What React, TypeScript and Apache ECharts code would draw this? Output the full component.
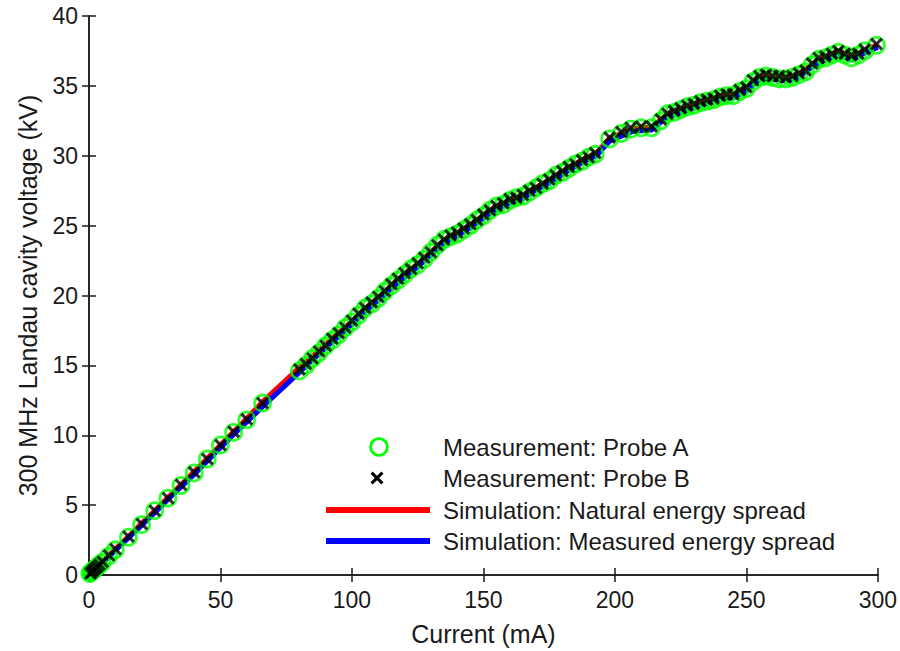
import React, { useEffect, useRef } from "react";
import * as echarts from "echarts";

// Current (mA) vs 300 MHz Landau cavity voltage (kV)
const probeA: [number, number][] = [
  [0.3, 0.1], [0.8, 0.2], [1.3, 0.3], [1.8, 0.35], [2.4, 0.45], [3.0, 0.55], [3.8, 0.7], [5.0, 0.9],
  [7.5, 1.35], [10, 1.8], [15, 2.7], [20, 3.6], [25, 4.6], [30, 5.5], [35, 6.4], [40, 7.3],
  [45, 8.3], [50, 9.3], [55, 10.2], [60, 11.1], [66, 12.3],
  [80, 14.6], [82.5, 15.0], [85, 15.5], [87.5, 15.9], [90, 16.4], [92.5, 16.8], [95, 17.2], [97.5, 17.7],
  [100, 18.1], [102.5, 18.6], [105, 19.1], [107.5, 19.4], [110, 19.8], [112.5, 20.3], [115, 20.7],
  [117.5, 21.1], [120, 21.5], [122.5, 21.9], [125, 22.2], [127.5, 22.6], [130, 23.1], [132.5, 23.6],
  [135, 24.0], [137.5, 24.2], [140, 24.4], [142.5, 24.7], [145, 25.0], [147.5, 25.4], [150, 25.7],
  [152.5, 26.1], [155, 26.4], [157.5, 26.5], [160, 26.8], [162.5, 27.0], [165, 27.1], [167.5, 27.4],
  [170, 27.7], [172.5, 28.0], [175, 28.2], [177.5, 28.6], [180, 28.8], [182.5, 29.1], [185, 29.4],
  [187.5, 29.6], [190, 29.9], [192.5, 30.1], [198, 31.2], [202.5, 31.6], [206, 31.9], [210, 32.0],
  [214, 32.0], [217.5, 32.5], [220, 33.0], [222.5, 33.1], [225, 33.3], [227.5, 33.5], [230, 33.6],
  [232.5, 33.8], [235, 33.9], [237.5, 34.0], [240, 34.2], [242.5, 34.3], [245, 34.3], [247.5, 34.6],
  [250, 34.8], [252.5, 35.3], [255, 35.6], [257.5, 35.7], [260, 35.6], [262.5, 35.5], [265, 35.5],
  [267.5, 35.6], [270, 35.8], [272.5, 36.0], [275, 36.5], [277.5, 36.9], [280, 37.0], [282.5, 37.2],
  [285, 37.4], [287.5, 37.2], [290, 37.0], [292.5, 37.2], [295, 37.5], [299.5, 37.9],
];

const probeB: [number, number][] = [
  [0.5, 0.1], [1.0, 0.2], [1.5, 0.3], [2.0, 0.4], [2.6, 0.5], [3.2, 0.6], [4.0, 0.75], [5.2, 0.95],
  [7.6, 1.4], [10.1, 1.85], [15, 2.75], [20.1, 3.65], [25, 4.6], [30.1, 5.5], [35, 6.45], [40, 7.35],
  [45, 8.3], [50, 9.3], [55, 10.25], [60, 11.15], [66, 12.3],
  [80, 14.7], [82.5, 15.1], [85, 15.5], [87.5, 16.0], [90, 16.4], [92.5, 16.9], [95, 17.3], [97.5, 17.7],
  [100, 18.2], [102.5, 18.7], [105, 19.1], [107.5, 19.5], [110, 19.9], [112.5, 20.3], [115, 20.8],
  [117.5, 21.2], [120, 21.6], [122.5, 21.9], [125, 22.3], [127.5, 22.7], [130, 23.1], [132.5, 23.6],
  [135, 24.0], [137.5, 24.3], [140, 24.5], [142.5, 24.8], [145, 25.1], [147.5, 25.4], [150, 25.8],
  [152.5, 26.1], [155, 26.4], [157.5, 26.6], [160, 26.9], [162.5, 27.0], [165, 27.2], [167.5, 27.5],
  [170, 27.7], [172.5, 28.0], [175, 28.3], [177.5, 28.6], [180, 28.9], [182.5, 29.2], [185, 29.4],
  [187.5, 29.7], [190, 29.9], [192.5, 30.2], [198, 31.3], [202.5, 31.7], [206, 32.0], [210, 32.1],
  [214, 32.1], [217.5, 32.6], [220, 33.0], [222.5, 33.2], [225, 33.4], [227.5, 33.6], [230, 33.7],
  [232.5, 33.9], [235, 34.0], [237.5, 34.1], [240, 34.3], [242.5, 34.4], [245, 34.4], [247.5, 34.7],
  [250, 34.9], [252.5, 35.4], [255, 35.7], [257.5, 35.8], [260, 35.7], [262.5, 35.7], [265, 35.6],
  [267.5, 35.7], [270, 35.9], [272.5, 36.1], [275, 36.6], [277.5, 37.0], [280, 37.1], [282.5, 37.3],
  [285, 37.5], [287.5, 37.3], [290, 37.2], [292.5, 37.3], [295, 37.6], [299.5, 38.0],
];

const simNatural: [number, number][] = [
  [0, 0], [5, 0.95], [10, 1.85], [15, 2.75], [20, 3.7], [25, 4.6], [30, 5.55], [35, 6.45], [40, 7.4],
  [45, 8.35], [50, 9.3], [55, 10.25], [60, 11.2], [66, 12.4], [80, 14.85], [85, 15.65], [90, 16.5],
  [95, 17.35], [100, 18.15], [105, 19.05], [110, 19.85], [115, 20.7], [120, 21.5], [125, 22.25],
  [130, 23.1], [135, 23.95], [140, 24.45], [145, 25.05], [150, 25.75], [155, 26.4], [160, 26.8],
  [165, 27.15], [170, 27.75], [175, 28.25], [180, 28.85], [185, 29.45], [190, 29.95], [193, 30.2],
  [198, 31.25], [203, 31.65], [207, 31.95], [214, 32.05], [220, 33.0], [225, 33.3], [230, 33.65],
  [235, 33.95], [240, 34.25], [245, 34.35], [250, 34.85], [255, 35.65], [260, 35.65], [265, 35.55],
  [270, 35.85], [275, 36.55], [280, 37.05], [285, 37.45], [290, 37.05], [295, 37.55], [300, 37.95],
];

const simMeasured: [number, number][] = [
  [0, 0], [5, 0.85], [10, 1.75], [15, 2.65], [20, 3.55], [25, 4.45], [30, 5.4], [35, 6.3], [40, 7.2],
  [45, 8.15], [50, 9.1], [55, 10.05], [60, 10.95], [66, 12.05], [80, 14.5], [85, 15.4], [90, 16.25],
  [95, 17.1], [100, 17.95], [105, 18.85], [110, 19.65], [115, 20.5], [120, 21.3], [125, 22.05],
  [130, 22.9], [135, 23.75], [140, 24.25], [145, 24.85], [150, 25.55], [155, 26.2], [160, 26.6],
  [165, 26.95], [170, 27.55], [175, 28.05], [180, 28.65], [185, 29.25], [190, 29.75], [193, 30.0],
  [198, 31.05], [203, 31.45], [207, 31.75], [214, 31.85], [220, 32.8], [225, 33.1], [230, 33.45],
  [235, 33.75], [240, 34.05], [245, 34.15], [250, 34.65], [255, 35.45], [260, 35.45], [265, 35.35],
  [270, 35.65], [275, 36.35], [280, 36.85], [285, 37.25], [290, 36.85], [295, 37.35], [300, 37.75],
];

const xTicks = { min: 0, max: 300, interval: 50 };
const yTicks = { min: 0, max: 40, interval: 5 };

const seriesNames = [
  "Measurement: Probe A",
  "Measurement: Probe B",
  "Simulation: Natural energy spread",
  "Simulation: Measured energy spread",
];

const FONT = "'Liberation Sans', Arial, Helvetica, sans-serif";
const AXIS_COLOR = "#1a1a1a";
const GREEN = "#00ff00";
const RED = "#ff0000";
const BLUE = "#0000ff";
const CROSS =
  "path://M0,1.7L1.7,0L5,3.3L8.3,0L10,1.7L6.7,5L10,8.3L8.3,10L5,6.7L1.7,10L0,8.3L3.3,5Z";

// legend cross polygon (unit box 0..10)
const crossUnit: [number, number][] = [
  [0, 1.7], [1.7, 0], [5, 3.3], [8.3, 0], [10, 1.7], [6.7, 5], [10, 8.3], [8.3, 10], [5, 6.7], [1.7, 10], [0, 8.3], [3.3, 5],
];

export default function App() {
  const ref = useRef<HTMLDivElement>(null);

  useEffect(() => {
    if (!ref.current) return;
    const chart = echarts.init(ref.current, null, { renderer: "svg" });

    const axisLine = { show: true, lineStyle: { color: AXIS_COLOR, width: 1.5 } };
    const axisTick = { show: true, inside: true, length: 7, lineStyle: { color: AXIS_COLOR, width: 1.5 } };
    const labelStyle = { color: AXIS_COLOR, fontSize: 23, fontFamily: FONT };
    const nameStyle = { color: AXIS_COLOR, fontSize: 25, fontFamily: FONT };

    // legend layout
    const legIconX = 326;
    const legIconW = 104;
    const legTextX = 443;
    const legRows = [447, 478, 510, 541];
    const legCx = legIconX + legIconW / 2;
    const crossSize = 13;

    const legendText = (i: number) => ({
      type: "text",
      left: legTextX,
      top: legRows[i] - 14,
      style: {
        text: seriesNames[i],
        fontSize: 24,
        fontFamily: FONT,
        fill: AXIS_COLOR,
        lineHeight: 28,
      },
    });

    chart.setOption({
      animation: false,
      backgroundColor: "#ffffff",
      textStyle: { fontFamily: FONT },
      grid: { left: 89, right: 22, top: 16, bottom: 73, containLabel: false },
      xAxis: [
        {
          type: "value",
          ...xTicks,
          position: "bottom",
          name: "Current (mA)",
          nameLocation: "middle",
          nameGap: 46,
          nameTextStyle: nameStyle,
          axisLine,
          axisTick,
          splitLine: { show: false },
          axisLabel: { ...labelStyle, margin: 13 },
        },
        {
          type: "value",
          ...xTicks,
          position: "top",
          axisLine,
          axisTick,
          splitLine: { show: false },
          axisLabel: { show: false },
        },
      ],
      yAxis: [
        {
          type: "value",
          ...yTicks,
          position: "left",
          name: "300 MHz Landau cavity voltage (kV)",
          nameLocation: "middle",
          nameGap: 49,
          nameTextStyle: nameStyle,
          axisLine,
          axisTick,
          splitLine: { show: false },
          axisLabel: { ...labelStyle, margin: 11 },
        },
        {
          type: "value",
          ...yTicks,
          position: "right",
          axisLine,
          axisTick,
          splitLine: { show: false },
          axisLabel: { show: false },
        },
      ],
      graphic: [
        {
          type: "circle",
          shape: { cx: legCx + 1, cy: legRows[0], r: 8.3 },
          style: { fill: "none", stroke: GREEN, lineWidth: 2.8 },
          z: 100,
        },
        {
          type: "polygon",
          shape: {
            points: crossUnit.map(([px, py]) => [
              legCx - 1 - crossSize / 2 + (px * crossSize) / 10,
              legRows[1] - crossSize / 2 + (py * crossSize) / 10,
            ]),
          },
          style: { fill: "#000000" },
          z: 100,
        },
        {
          type: "rect",
          shape: { x: legIconX, y: legRows[2] - 3, width: legIconW, height: 6 },
          style: { fill: RED },
          z: 100,
        },
        {
          type: "rect",
          shape: { x: legIconX, y: legRows[3] - 3, width: legIconW, height: 6 },
          style: { fill: BLUE },
          z: 100,
        },
        legendText(0),
        legendText(1),
        legendText(2),
        legendText(3),
      ],
      series: [
        {
          name: seriesNames[2],
          type: "line",
          data: simNatural,
          showSymbol: false,
          symbol: "none",
          lineStyle: { color: RED, width: 5 },
          itemStyle: { color: RED },
          z: 1,
        },
        {
          name: seriesNames[3],
          type: "line",
          data: simMeasured,
          showSymbol: false,
          symbol: "none",
          lineStyle: { color: BLUE, width: 5 },
          itemStyle: { color: BLUE },
          z: 2,
        },
        {
          name: seriesNames[0],
          type: "scatter",
          data: probeA,
          symbol: "circle",
          symbolSize: 16,
          itemStyle: { color: "rgba(0,0,0,0)", borderColor: GREEN, borderWidth: 2.8 },
          z: 3,
        },
        {
          name: seriesNames[1],
          type: "scatter",
          data: probeB,
          symbol: CROSS,
          symbolSize: 13,
          itemStyle: { color: "#000000" },
          z: 4,
        },
      ],
    });

    return () => chart.dispose();
  }, []);

  return (
    <div
      ref={ref}
      style={{ position: "fixed", left: 0, top: 0, width: 900, height: 651, background: "#fff" }}
    />
  );
}
